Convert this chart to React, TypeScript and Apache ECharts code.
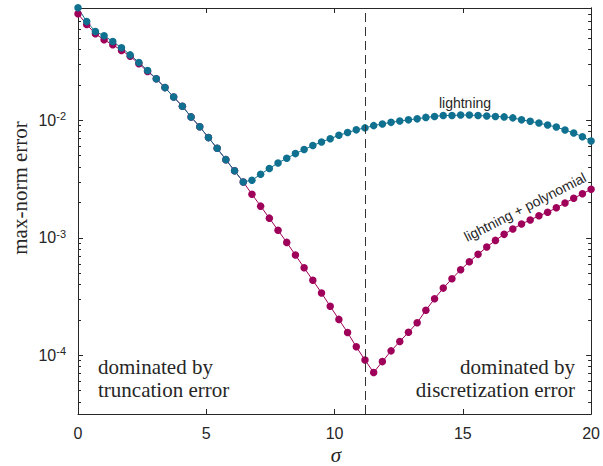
import React, { useEffect, useRef } from "react";
import * as echarts from "echarts";

// sigma = linspace(0, 20, 60)
const SIGMA = [
  0, 0.339, 0.678, 1.017, 1.356, 1.695, 2.034, 2.373, 2.712, 3.051,
  3.39, 3.729, 4.068, 4.407, 4.746, 5.085, 5.424, 5.763, 6.102, 6.441,
  6.78, 7.119, 7.458, 7.797, 8.136, 8.475, 8.814, 9.153, 9.492, 9.831,
  10.169, 10.508, 10.847, 11.186, 11.525, 11.864, 12.203, 12.542, 12.881, 13.22,
  13.559, 13.898, 14.237, 14.576, 14.915, 15.254, 15.593, 15.932, 16.271, 16.61,
  16.949, 17.288, 17.627, 17.966, 18.305, 18.644, 18.983, 19.322, 19.661, 20,
];

const LIGHTNING = [
  9.08e-2, 6.93e-2, 5.7e-2, 5.25e-2, 4.69e-2, 4.15e-2, 3.61e-2, 3.11e-2, 2.66e-2, 2.26e-2,
  1.9e-2, 1.58e-2, 1.32e-2, 1.07e-2, 8.81e-3, 7.13e-3, 5.78e-3, 4.63e-3, 3.72e-3, 2.99e-3,
  3.09e-3, 3.48e-3, 3.89e-3, 4.34e-3, 4.75e-3, 5.21e-3, 5.64e-3, 6.1e-3, 6.55e-3, 6.98e-3,
  7.46e-3, 7.87e-3, 8.3e-3, 8.63e-3, 9.02e-3, 9.31e-3, 9.62e-3, 9.86e-3, 1.01e-2, 1.03e-2,
  1.06e-2, 1.08e-2, 1.1e-2, 1.1e-2, 1.11e-2, 1.11e-2, 1.1e-2, 1.09e-2, 1.08e-2, 1.07e-2,
  1.05e-2, 1.01e-2, 9.82e-3, 9.48e-3, 9.12e-3, 8.77e-3, 8.28e-3, 7.8e-3, 7.26e-3, 6.67e-3,
];

const LIGHTNING_POLY = [
  8.07e-2, 6.55e-2, 5.46e-2, 4.85e-2, 4.4e-2, 3.94e-2, 3.52e-2, 3.03e-2, 2.61e-2, 2.26e-2,
  1.9e-2, 1.58e-2, 1.32e-2, 1.07e-2, 8.81e-3, 7.13e-3, 5.78e-3, 4.63e-3, 3.72e-3, 2.99e-3,
  2.35e-3, 1.86e-3, 1.47e-3, 1.16e-3, 9.14e-4, 7.13e-4, 5.56e-4, 4.35e-4, 3.39e-4, 2.61e-4,
  2.02e-4, 1.56e-4, 1.18e-4, 9.1e-5, 7.14e-5, 8.83e-5, 1.09e-4, 1.31e-4, 1.57e-4, 1.89e-4,
  2.42e-4, 3.03e-4, 3.73e-4, 4.48e-4, 5.35e-4, 6.25e-4, 7.23e-4, 8.34e-4, 9.51e-4, 1.07e-3,
  1.19e-3, 1.31e-3, 1.42e-3, 1.54e-3, 1.65e-3, 1.8e-3, 1.98e-3, 2.17e-3, 2.37e-3, 2.59e-3,
];

const SERIES_NAMES = ["lightning", "lightning + polynomial"];
const X_TICKS = [0, 5, 10, 15, 20];
const Y_MAJOR = [1e-4, 1e-3, 1e-2];
const Y_MINOR = [
  4e-5, 5e-5, 6e-5, 7e-5, 8e-5, 9e-5,
  2e-4, 3e-4, 4e-4, 5e-4, 6e-4, 7e-4, 8e-4, 9e-4,
  2e-3, 3e-3, 4e-3, 5e-3, 6e-3, 7e-3, 8e-3, 9e-3,
  2e-2, 3e-2, 4e-2, 5e-2, 6e-2, 7e-2, 8e-2, 9e-2,
];
const Y_MIN = 3.162e-5;
const Y_MAX = 0.0905;
const DASHED_SIGMA = 11.2;

export default function App() {
  const ref = useRef<HTMLDivElement>(null);
  useEffect(() => {
    const chart = echarts.init(ref.current!, null, { renderer: "svg" });
    const axisColor = "#262626";
    const sans = "Liberation Sans";
    const serif = "Liberation Serif";
    const teal = "#0f7090";
    const magenta = "#9e005a";

    const yFormatter = (v: number) => `{b|10}{s|${Math.round(Math.log10(v))}}`;
    const logAxis = (position: string, labels: boolean, major: boolean) => ({
      type: "log",
      logBase: 10,
      min: Y_MIN,
      max: Y_MAX,
      position,
      axisLine: { show: true, onZero: false, lineStyle: { color: axisColor, width: 1 } },
      axisTick: {
        show: true,
        inside: true,
        length: major ? 5 : 3,
        customValues: major ? Y_MAJOR : Y_MINOR,
        lineStyle: { color: axisColor, width: 1 },
      },
      axisLabel: {
        show: labels,
        customValues: Y_MAJOR,
        formatter: yFormatter,
        margin: 12,
        rich: {
          b: { fontSize: 16, fontFamily: sans, color: axisColor },
          s: { fontSize: 11, fontFamily: sans, color: axisColor, verticalAlign: "top", padding: [0, 0, 8, 0] },
        },
      },
      splitLine: { show: false },
      minorTick: { show: false },
      minorSplitLine: { show: false },
    });

    const xAxisBase = (position: string, labels: boolean) => ({
      type: "value",
      min: 0,
      max: 20,
      interval: 5,
      position,
      axisLine: { show: true, onZero: false, lineStyle: { color: axisColor, width: 1 } },
      axisTick: { show: true, inside: true, length: 5, customValues: X_TICKS, lineStyle: { color: axisColor } },
      axisLabel: {
        show: labels,
        customValues: X_TICKS,
        fontSize: 16,
        fontFamily: sans,
        color: axisColor,
        margin: 11,
        showMinLabel: true,
        showMaxLabel: true,
      },
      splitLine: { show: false },
    });

    const mkData = (vals: number[]) => SIGMA.map((s, i) => [s, vals[i]]);

    chart.setOption({
      animation: false,
      backgroundColor: "#ffffff",
      grid: { left: 78, right: 10, top: 8, bottom: 52, containLabel: false },
      xAxis: [xAxisBase("bottom", true), xAxisBase("top", false)],
      yAxis: [
        logAxis("left", true, true),
        logAxis("left", false, false),
        logAxis("right", false, true),
        logAxis("right", false, false),
      ],
      series: [
        {
          name: SERIES_NAMES[1],
          type: "line",
          data: mkData(LIGHTNING_POLY),
          symbol: "circle",
          symbolSize: 7.5,
          showAllSymbol: true,
          clip: false,
          itemStyle: { color: magenta },
          lineStyle: { color: magenta, width: 1 },
          markLine: {
            silent: true,
            symbol: ["none", "none"],
            label: { show: false },
            lineStyle: { color: "#333333", width: 1, type: [9, 5] },
            data: [{ xAxis: DASHED_SIGMA }],
          },
        },
        {
          name: SERIES_NAMES[0],
          type: "line",
          data: mkData(LIGHTNING),
          symbol: "circle",
          symbolSize: 7.5,
          showAllSymbol: true,
          clip: false,
          itemStyle: { color: teal },
          lineStyle: { color: teal, width: 1 },
        },
      ],
      graphic: [
        {
          type: "text",
          x: 20,
          y: 188,
          rotation: Math.PI / 2,
          style: { text: "max-norm error", fontSize: 21, fontFamily: serif, fill: axisColor, align: "center", verticalAlign: "middle" },
        },
        {
          type: "text",
          x: 336,
          y: 455,
          style: { text: "σ", fontSize: 21, fontStyle: "italic", fontFamily: serif, fill: axisColor, align: "center", verticalAlign: "middle" },
        },
        {
          type: "text",
          x: 98,
          y: 378,
          style: { text: "dominated by\ntruncation error", fontSize: 21, fontFamily: serif, fill: axisColor, align: "left", verticalAlign: "middle", lineHeight: 23 },
        },
        {
          type: "text",
          x: 575,
          y: 378,
          style: { text: "dominated by\ndiscretization error", fontSize: 21, fontFamily: serif, fill: axisColor, align: "right", verticalAlign: "middle", lineHeight: 23 },
        },
        {
          type: "text",
          x: 465,
          y: 103,
          style: { text: SERIES_NAMES[0], fontSize: 14, fontFamily: sans, fill: axisColor, align: "center", verticalAlign: "middle" },
        },
        {
          type: "text",
          x: 525,
          y: 207,
          rotation: (27 * Math.PI) / 180,
          style: { text: SERIES_NAMES[1], fontSize: 14, fontFamily: sans, fill: axisColor, align: "center", verticalAlign: "middle" },
        },
      ],
    });
    return () => chart.dispose();
  }, []);
  return <div ref={ref} style={{ position: "fixed", left: 0, top: 0, width: 603, height: 466 }} />;
}
